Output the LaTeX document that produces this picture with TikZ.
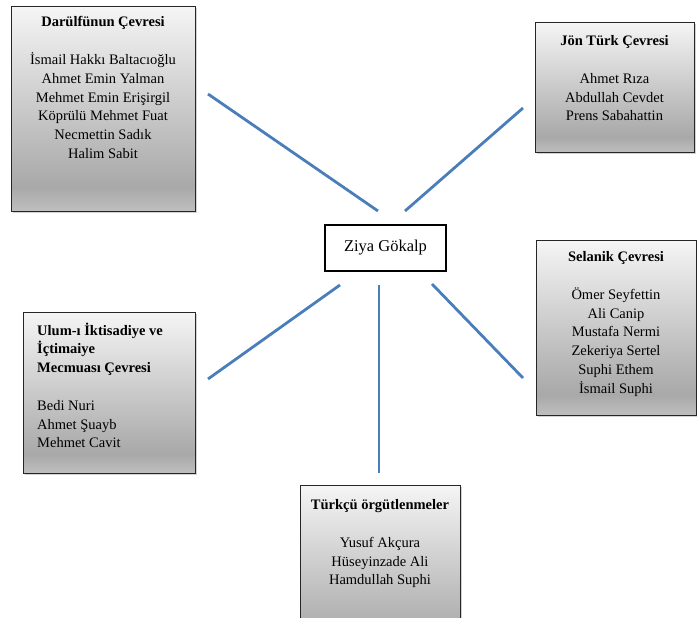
\documentclass[tikz,border=0pt]{standalone}
\usepackage{fontspec}
\setmainfont{Liberation Serif}
\usetikzlibrary{shadows}
\definecolor{linkblue}{HTML}{4A7EBB}
\pgfdeclareverticalshading{panelshade}{100bp}{color(0bp)=(gray!50); color(25bp)=(gray!50); color(31bp)=(gray!68); color(75bp)=(gray!8); color(100bp)=(gray!8)}

\begin{document}
\begin{tikzpicture}[x=1pt,y=-1pt,
  panel/.style={draw=black!85, line width=1.2pt, shade, shading=panelshade,
    drop shadow={opacity=0.35, shadow xshift=1.5pt, shadow yshift=-1.5pt},
    anchor=north west, inner sep=0pt},
  names/.style={align=center, anchor=north, inner sep=0pt,
    font=\fontsize{14.5}{18.8}\selectfont},
  link/.style={linkblue, line width=2.8pt}]
\useasboundingbox (0,0) rectangle (697,618);
% surrounding circles
\node[panel, minimum width=184, minimum height=205] (darul) at (11,6) {};
\node[panel, minimum width=159, minimum height=130] (jon) at (535,22) {};
\node[panel, minimum width=160, minimum height=175] (selanik) at (536,240) {};
\node[panel, minimum width=172, minimum height=161] (ulum) at (23,312) {};
\node[panel, minimum width=160, minimum height=170] (turkcu) at (300,485) {};
% texts
\node[names] (darultext) at (103,16.5) {\textbf{Darülfünun Çevresi}\\[18.8pt]
  İsmail Hakkı Baltacıoğlu\\ Ahmet Emin Yalman\\ Mehmet Emin Erişirgil\\
  Köprülü Mehmet Fuat\\ Necmettin Sadık\\ Halim Sabit};
\node[names] (jontext) at (614.5,35.5) {\textbf{Jön Türk Çevresi}\\[18.8pt]
  Ahmet Rıza\\ Abdullah Cevdet\\ Prens Sabahattin};
\node[names] (selaniktext) at (616,251.5) {\textbf{Selanik Çevresi}\\[18.8pt]
  Ömer Seyfettin\\ Ali Canip\\ Mustafa Nermi\\ Zekeriya Sertel\\
  Suphi Ethem\\ İsmail Suphi};
\node[names, align=left, anchor=north west] (ulumtext) at (37,322.5)
  {\textbf{Ulum-ı İktisadiye ve}\\ \textbf{İçtimaiye}\\
  \textbf{Mecmuası Çevresi}\\[18.8pt] Bedi Nuri\\ Ahmet Şuayb\\ Mehmet Cavit};
\node[names] (turkcutext) at (380,499.5) {\textbf{Türkçü örgütlenmeler}\\[18.8pt]
  Yusuf Akçura\\ Hüseyinzade Ali\\ Hamdullah Suphi};
% centre
\node[draw, line width=2.5pt, fill=white, minimum width=121, minimum height=46,
  inner sep=0pt, font=\fontsize{16.5}{20}\selectfont] (ziya) at (385.5,248) {Ziya Gökalp};
% spokes
\coordinate (d1) at (208,94);  \coordinate (d2) at (378,211);
\coordinate (j1) at (405,211); \coordinate (j2) at (523,108);
\coordinate (s1) at (432,284); \coordinate (s2) at (523,378);
\coordinate (t1) at (379,285); \coordinate (t2) at (379,473);
\coordinate (u1) at (340,285); \coordinate (u2) at (208,379);
\draw[link] (d1) -- (d2);
\draw[link] (j1) -- (j2);
\draw[link] (s1) -- (s2);
\draw[link] (t1) -- (t2);
\draw[link] (u1) -- (u2);
\end{tikzpicture}
\end{document}
